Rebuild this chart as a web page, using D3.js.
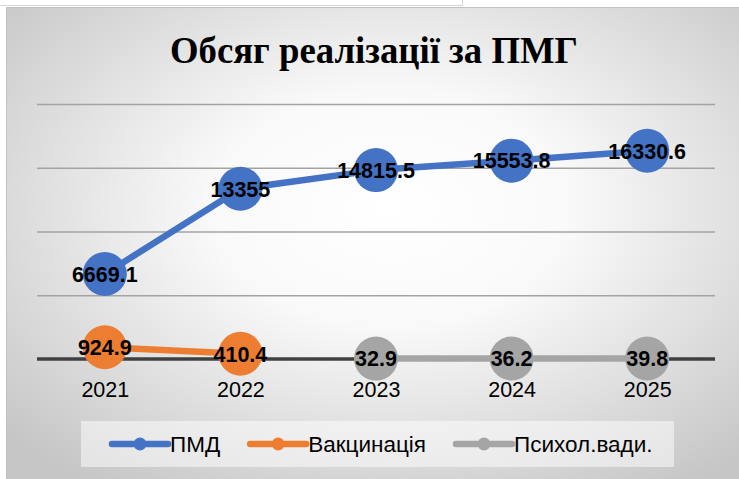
<!DOCTYPE html>
<html>
<head>
<meta charset="utf-8">
<script src="https://cdn.jsdelivr.net/npm/d3@7"></script>
<style>
  html, body { margin: 0; padding: 0; background: #ffffff; }
  svg { display: block; }
</style>
</head>
<body>
<svg id="chart" width="739" height="479"></svg>
<script>
// ---- data ----
const years = ["2021", "2022", "2023", "2024", "2025"];
const pmd   = [6669.1, 13355, 14815.5, 15553.8, 16330.6];
const vacc  = [924.9, 410.4, null, null, null];
const psych = [null, null, 32.9, 36.2, 39.8];
const yTicks = [0, 5000, 10000, 15000, 20000];
const seriesNames = ["ПМД", "Вакцинація", "Психол.вади."];
const seriesColors = ["#4472c4", "#ed7d31", "#a5a5a5"];
const titleText = "Обсяг реалізації за ПМГ";

// ---- layout ----
const W = 739, H = 479;
const plotL = 37, plotR = 715, plotT = 104, plotB = 359;
const svg = d3.select("#chart");
const sans = "'Liberation Sans', Arial, sans-serif";

// background / frame
const defs = svg.append("defs");
const grad = defs.append("radialGradient").attr("id", "bg")
  .attr("cx", "52%").attr("cy", "42%").attr("r", "70%");
grad.append("stop").attr("offset", "0%").attr("stop-color", "#ffffff");
grad.append("stop").attr("offset", "35%").attr("stop-color", "#f9f9f9");
grad.append("stop").attr("offset", "100%").attr("stop-color", "#c6c6c6");

svg.append("rect").attr("width", W).attr("height", H).attr("fill", "#ffffff");
svg.append("line").attr("x1", 0).attr("x2", 462).attr("y1", 5.5).attr("y2", 5.5)
  .attr("stroke", "#d6d6d6").attr("stroke-width", 1);
svg.append("line").attr("x1", 462.5).attr("x2", 462.5).attr("y1", 0).attr("y2", 6)
  .attr("stroke", "#d6d6d6").attr("stroke-width", 1);
svg.append("rect").attr("x", 6.5).attr("y", 7.5).attr("width", W).attr("height", H)
  .attr("fill", "url(#bg)").attr("stroke", "#c2c2c2").attr("stroke-width", 1);

// title
svg.append("text")
  .attr("x", 374).attr("y", 63)
  .attr("text-anchor", "middle")
  .attr("font-family", "'Liberation Serif', 'Times New Roman', serif")
  .attr("font-weight", "bold")
  .attr("font-size", 38)
  .attr("textLength", 408)
  .attr("lengthAdjust", "spacingAndGlyphs")
  .attr("fill", "#000")
  .text(titleText);

// scales
const x = d3.scalePoint().domain(years).range([plotL, plotR]).padding(0.5);
const y = d3.scaleLinear().domain([0, 20000]).range([plotB, plotT]);

// gridlines
const grid = svg.append("g").attr("transform", `translate(${plotL},0)`)
  .call(d3.axisLeft(y).tickValues(yTicks.filter(v => v > 0)).tickSize(-(plotR - plotL)).tickFormat(""));
grid.select(".domain").remove();
grid.selectAll(".tick line").attr("stroke", "#a3a3a3").attr("stroke-width", 1.3);

// x axis baseline
const xAxis = svg.append("g").attr("transform", `translate(0,${y(0)})`)
  .call(d3.axisBottom(x).tickSize(0).tickPadding(0));
xAxis.select(".domain").attr("d", `M${plotL},0H${plotR}`)
  .attr("stroke", "#404040").attr("stroke-width", 3.5);
xAxis.selectAll(".tick text")
  .attr("y", 38).attr("dy", null)
  .attr("font-family", sans).attr("font-size", 21.5)
  .attr("fill", "#000");

// series
const series = [pmd, vacc, psych];
const line = d3.line()
  .defined(d => d.v !== null)
  .x(d => x(d.k)).y(d => y(d.v));

series.forEach((vals, i) => {
  const pts = years.map((k, j) => ({ k, v: vals[j] }));
  const g = svg.append("g");
  g.append("path").datum(pts)
    .attr("d", line)
    .attr("fill", "none")
    .attr("stroke", seriesColors[i])
    .attr("stroke-width", 6.5)
    .attr("stroke-linejoin", "round");
  const valid = pts.filter(d => d.v !== null);
  g.selectAll("circle").data(valid).join("circle")
    .attr("cx", d => x(d.k)).attr("cy", d => y(d.v))
    .attr("r", 22).attr("fill", seriesColors[i]);
  g.selectAll("text").data(valid).join("text")
    .attr("x", d => x(d.k)).attr("y", d => y(d.v) + 7.8)
    .attr("text-anchor", "middle")
    .attr("font-family", sans).attr("font-weight", "bold").attr("font-size", 21.5)
    .attr("fill", "#000")
    .text(d => String(d.v));
});

// legend
svg.append("rect").attr("x", 81).attr("y", 421).attr("width", 593).attr("height", 46)
  .attr("fill", "rgba(255,255,255,0.5)");
let lx = 112;
const ly = 444;
seriesNames.forEach((name, i) => {
  const g = svg.append("g");
  g.append("line").attr("x1", lx).attr("x2", lx + 56).attr("y1", ly).attr("y2", ly)
    .attr("stroke", seriesColors[i]).attr("stroke-width", 6.5).attr("stroke-linecap", "round");
  g.append("circle").attr("cx", lx + 28).attr("cy", ly).attr("r", 6.5).attr("fill", seriesColors[i]);
  const t = g.append("text").attr("x", lx + 58).attr("y", ly + 8.3)
    .attr("font-family", sans).attr("font-size", 22.5).attr("fill", "#000")
    .text(name);
  lx = lx + 58 + t.node().getComputedTextLength() + 30;
});
</script>
</body>
</html>
